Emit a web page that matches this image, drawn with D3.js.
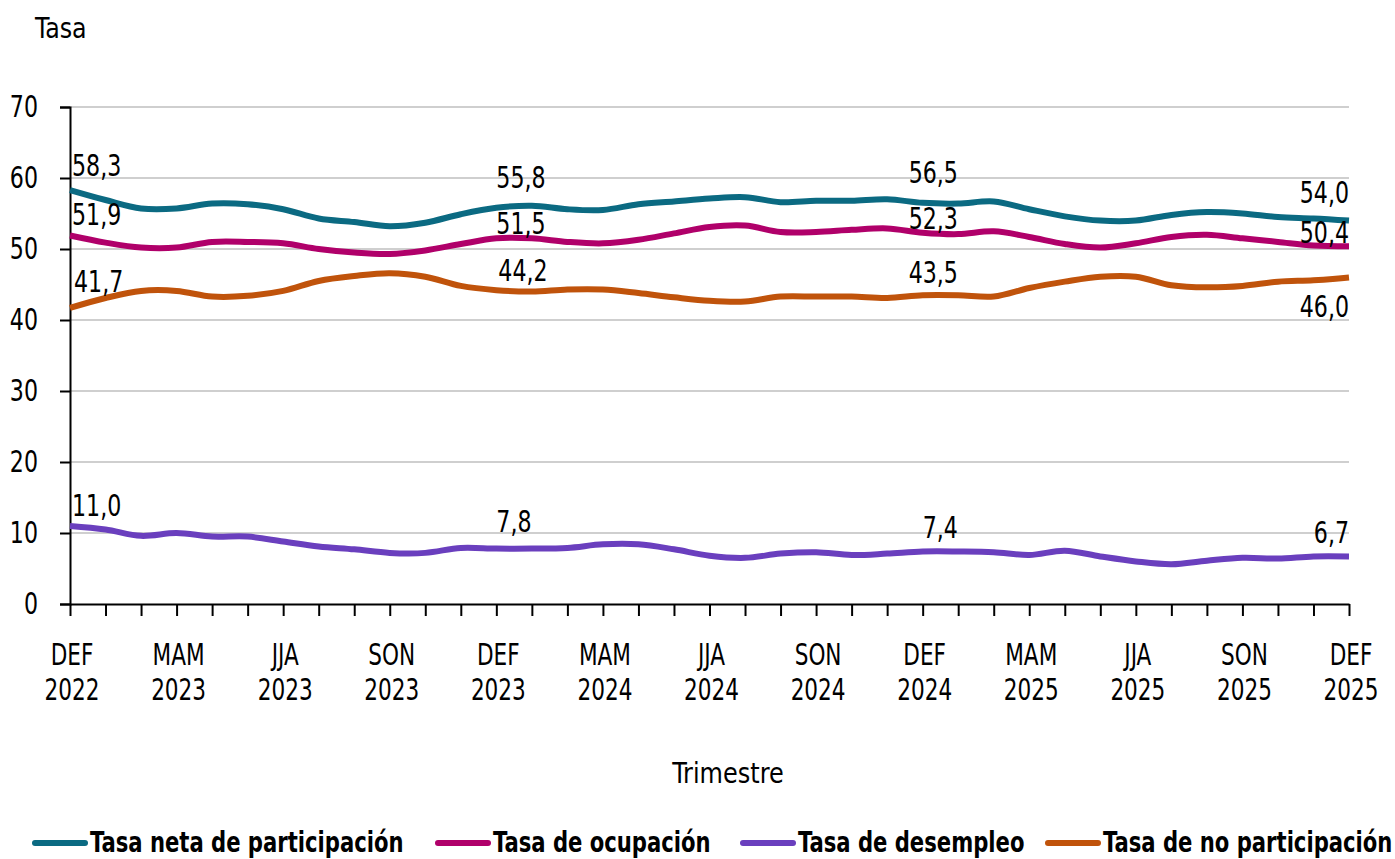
<!DOCTYPE html>
<html>
<head>
<meta charset="utf-8">
<script src="https://cdn.jsdelivr.net/npm/d3@7"></script>
<style>
  body { margin: 0; background: #fff; }
  svg { display: block; }
  text { font-family: "Liberation Sans Narrow", "DejaVu Sans Condensed", "Arial Narrow", sans-serif; fill: #000; }
</style>
</head>
<body>
<svg id="chart"></svg>
<script>
const width = 1395;
const height = 859;

// trimestres móviles, DEF 2022 ... DEF 2025
const periods = ["DEF 2022","EFM 2023","FMA 2023","MAM 2023","AMJ 2023","MJJ 2023","JJA 2023","JAS 2023","ASO 2023","SON 2023","OND 2023","NDE 2023",
  "DEF 2023","EFM 2024","FMA 2024","MAM 2024","AMJ 2024","MJJ 2024","JJA 2024","JAS 2024","ASO 2024","SON 2024","OND 2024","NDE 2024",
  "DEF 2024","EFM 2025","FMA 2025","MAM 2025","AMJ 2025","MJJ 2025","JJA 2025","JAS 2025","ASO 2025","SON 2025","OND 2025","NDE 2025","DEF 2025"];
const tickIdx = [0, 3, 6, 9, 12, 15, 18, 21, 24, 27, 30, 33, 36];
const yTicks = [0, 10, 20, 30, 40, 50, 60, 70];

const tnp = [58.3,56.9,55.7,55.7,56.4,56.3,55.6,54.3,53.8,53.2,53.7,54.9,
  55.8,56.1,55.6,55.5,56.3,56.7,57.1,57.3,56.6,56.8,56.8,57.0,
  56.5,56.4,56.7,55.6,54.6,54.0,54.0,54.8,55.2,55.0,54.5,54.3,54.0];
const to = [51.9,50.9,50.2,50.2,51.0,51.0,50.8,50.0,49.5,49.3,49.8,50.7,
  51.5,51.5,51.0,50.8,51.3,52.2,53.1,53.3,52.4,52.4,52.7,52.9,
  52.3,52.1,52.5,51.7,50.7,50.2,50.8,51.7,52.0,51.5,51.0,50.5,50.4];
const td = [11.0,10.5,9.6,10.0,9.5,9.5,8.8,8.1,7.7,7.2,7.2,7.9,
  7.8,7.8,7.9,8.4,8.4,7.7,6.8,6.5,7.1,7.3,6.9,7.1,
  7.4,7.4,7.3,6.9,7.5,6.7,6.0,5.6,6.1,6.5,6.4,6.7,6.7];
const tnop = [41.7,43.1,44.1,44.1,43.3,43.4,44.1,45.5,46.2,46.6,46.1,44.8,
  44.2,44.0,44.3,44.3,43.8,43.2,42.7,42.6,43.3,43.3,43.3,43.1,
  43.5,43.5,43.3,44.5,45.4,46.1,46.1,44.9,44.6,44.8,45.4,45.6,46.0];

const labelIdx = [0, 12, 24, 36];

const series = [
  { name: "Tasa neta de participación", values: tnp, color: "#0b6a82", dy: [-24, -30, -30, -28], dx: [2, 0, -14, 0] },
  { name: "Tasa de ocupación", values: to, color: "#b0006a", dy: [-21, -15, -14, -14], dx: [2, 0, -14, 0] },
  { name: "Tasa de desempleo", values: td, color: "#6a3fbe", dy: [-20, -27, -24, -24], dx: [2, 0, 0, 0] },
  { name: "Tasa de no participación", values: tnop, color: "#c0530b", dy: [-26, -20, -23, 29], dx: [4, 2, -14, 0] }
];

const svg = d3.select("#chart").attr("width", width).attr("height", height);

const x = d3.scaleLinear().domain([0, periods.length - 1]).range([70, 1349]);
const y = d3.scaleLinear().domain([0, 70]).range([604, 107]);
const fmt = v => d3.format(".1f")(v).replace(".", ",");

// the reference uses a condensed face: squeeze text horizontally around its x
function squeeze(sel, f) {
  sel.each(function () {
    const t = d3.select(this);
    const tx = +t.attr("x") || 0;
    const ty = +t.attr("y") || 0;
    const prev = t.attr("transform") || "";
    t.attr("x", null).attr("y", null)
      .attr("transform", `${prev} translate(${tx},${ty}) scale(${f},1)`);
  });
}

// grid
svg.append("g")
  .selectAll("line")
  .data(yTicks.filter(t => t > 0))
  .enter()
  .append("line")
  .attr("x1", x(0)).attr("x2", x(36))
  .attr("y1", d => y(d)).attr("y2", d => y(d))
  .attr("stroke", "#bfbfbf")
  .attr("stroke-width", 1.5);

// y axis
const yAxis = svg.append("g")
  .attr("transform", `translate(${x(0)},0)`)
  .call(d3.axisLeft(y).tickValues(yTicks).tickSize(10).tickPadding(22).tickFormat(d3.format("d")));
yAxis.select(".domain").attr("stroke", "#000").attr("stroke-width", 2);
yAxis.selectAll(".tick line").attr("stroke", "#000").attr("stroke-width", 2);
yAxis.selectAll(".tick text").style("font-size", "30px").attr("fill", "#000").call(squeeze, 0.82);

// x axis
const xAxis = svg.append("g")
  .attr("transform", `translate(0,${y(0)})`)
  .call(d3.axisBottom(x).tickValues(d3.range(periods.length)).tickSize(12).tickSizeOuter(0).tickFormat(""));
xAxis.select(".domain").attr("stroke", "#000").attr("stroke-width", 2);
xAxis.selectAll(".tick line").attr("stroke", "#000").attr("stroke-width", 2);

const xl = svg.append("g")
  .selectAll("text")
  .data(tickIdx)
  .enter()
  .append("text")
  .attr("text-anchor", "middle")
  .style("font-size", "30px")
  .attr("transform", d => `translate(${x(d) + 2},0) scale(0.8,1)`);
xl.append("tspan").attr("x", 0).attr("y", 665).text(d => periods[d].split(" ")[0]);
xl.append("tspan").attr("x", 0).attr("y", 700).text(d => periods[d].split(" ")[1]);

// lines
const line = d3.line()
  .x((d, i) => x(i))
  .y(d => y(d))
  .curve(d3.curveCatmullRom.alpha(0.5));

svg.append("g")
  .selectAll("path")
  .data(series)
  .enter()
  .append("path")
  .attr("d", d => line(d.values))
  .attr("fill", "none")
  .attr("stroke", d => d.color)
  .attr("stroke-width", 6)
  .attr("stroke-linejoin", "round");

// data labels
series.forEach(s => {
  labelIdx.forEach((idx, k) => {
    svg.append("text")
      .attr("x", x(idx) + s.dx[k])
      .attr("y", y(s.values[idx]) + s.dy[k])
      .attr("dominant-baseline", "central")
      .attr("text-anchor", k === 3 ? "end" : "start")
      .style("font-size", "30px")
      .text(fmt(s.values[idx]))
      .call(squeeze, 0.82);
  });
});

// titles
svg.append("text").attr("x", 35).attr("y", 38).style("font-size", "29px").text("Tasa").call(squeeze, 0.91);
svg.append("text").attr("x", 728).attr("y", 783).attr("text-anchor", "middle")
  .style("font-size", "29px").text("Trimestre").call(squeeze, 0.92);

// legend
const legendX = [32, 435, 740, 1045];
const lg = svg.append("g")
  .selectAll("g")
  .data(series)
  .enter()
  .append("g")
  .attr("transform", (d, i) => `translate(${legendX[i]},843)`);
lg.append("line")
  .attr("x1", 3).attr("x2", 53).attr("y1", 0).attr("y2", 0)
  .attr("stroke", d => d.color)
  .attr("stroke-width", 6)
  .attr("stroke-linecap", "round");
lg.append("text")
  .attr("x", 58).attr("y", -1)
  .attr("dominant-baseline", "central")
  .style("font-size", "28px")
  .style("font-weight", "bold")
  .text(d => d.name)
  .call(squeeze, 0.84);
</script>
</body>
</html>
